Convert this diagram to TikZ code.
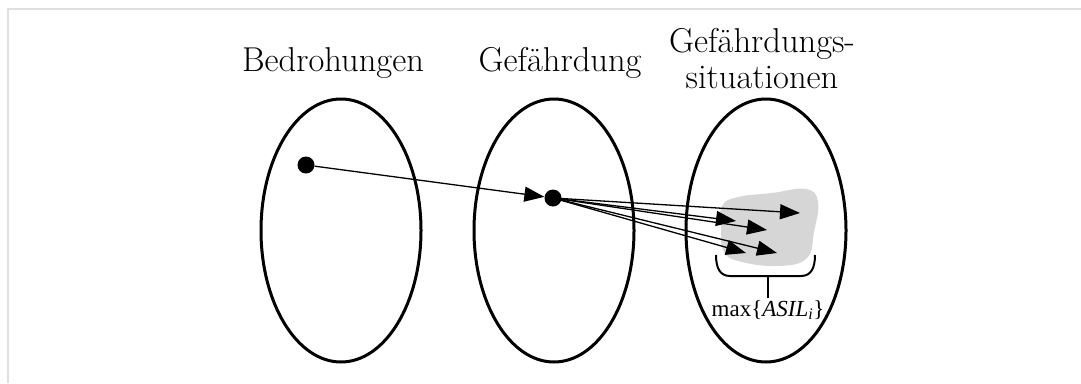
\documentclass[tikz,border=0pt]{standalone}
\usepackage{fontspec}
\newfontfamily\timesf{Liberation Serif}
\usetikzlibrary{shapes.geometric,arrows.meta}
\begin{document}
\begin{tikzpicture}[x=1pt,y=-1pt,
  set/.style={draw,ellipse,line width=3pt,minimum width=160pt,minimum height=263pt,inner sep=0pt},
  dot/.style={circle,fill=black,minimum size=17pt,inner sep=0pt},
  lab/.style={font=\fontsize{34.5}{36}\selectfont,align=center,anchor=base,inner sep=0pt},
  arr/.style={line width=1.3pt,-{Triangle[length=20pt,width=15pt]}},
  blob/.style={fill=black!16}]
\useasboundingbox (0,0) rectangle (1081,383);
\draw[black!12,line width=1.5pt] (8,383) -- (8,9) -- (1081,9);
% labels
\node[lab] (lb) at (333,71) {Bedrohungen};
\node[lab] (lg) at (560,71) {Gef\"ahrdung};
\node[lab] (ls) at (762,88) {Gef\"ahrdungs-\\situationen};
% sets
\node[set] (e1) at (341,230.5) {};
\node[set] (e2) at (554,230.5) {};
\node[set] (e3) at (766,230.5) {};
% blob
\fill[blob] plot[smooth cycle,tension=0.7] coordinates {(722,206) (738,197) (772,193) (806,189) (818,202) (814,232) (807,258) (780,266) (742,262) (724,252) (721,228)};
% dots
\node[dot] (d1) at (306,165) {};
\node[dot] (d2) at (553,198) {};
% targets
\coordinate (t1) at (800,213);
\coordinate (t2) at (736,221);
\coordinate (t3) at (767,230);
\coordinate (t4) at (746,253);
\coordinate (t5) at (777,253);
\draw[arr] (d1) -- (d2);
\foreach \t in {t1,t2,t3,t4,t5} \draw[arr] (d2.center) -- (\t);
% bracket
\coordinate (bl) at (716,255);
\coordinate (br) at (815,255);
\coordinate (bm) at (768,276);
\draw[line width=2pt] (bl) .. controls (716,268) and (720,276) .. (730,276) -- (801,276) .. controls (811,276) and (815,268) .. (br);
\node[font=\timesf\fontsize{23}{28}\selectfont,anchor=base,inner sep=0pt] (mx) at (768,316) {max\{\textit{ASIL}\textsubscript{\textit{i}}\}};
\draw[line width=2pt] (bm) -- (768,298);
\end{tikzpicture}
\end{document}
